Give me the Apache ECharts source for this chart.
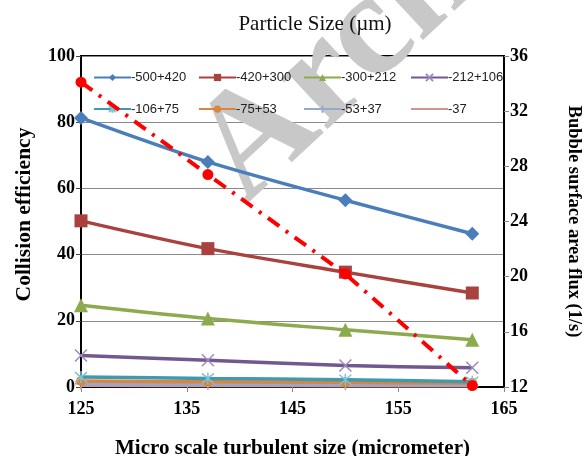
<!DOCTYPE html>
<html>
<head>
<meta charset="utf-8">
<script src="https://cdn.jsdelivr.net/npm/echarts@6/dist/echarts.min.js"></script>
<style>
  html, body { margin: 0; padding: 0; background: #fff; }
  #chart { width: 587px; height: 456px; }
</style>
</head>
<body>
<div id="chart"></div>
<script>
// Micro scale turbulent size (micrometer) at which each run was measured
const turbulentSize = [125, 137, 150, 162];

// Particle size classes (µm)
const sizeClasses = ['-500+420', '-420+300', '-300+212', '-212+106',
                     '-106+75', '-75+53', '-53+37', '-37'];

// Collision efficiency for each size class
const eff500_420 = [81.3, 68.0, 56.4, 46.3];
const eff420_300 = [50.2, 41.8, 34.7, 28.4];
const eff300_212 = [24.7, 20.7, 17.3, 14.3];
const eff212_106 = [9.5, 8.1, 6.5, 5.8];
const eff106_75  = [3.0, 2.6, 2.2, 1.6];
const eff75_53   = [1.8, 1.6, 1.4, 1.2];
const eff53_37   = [1.0, 0.9, 0.8, 0.7];
const eff37      = [0.5, 0.45, 0.4, 0.35];

// Bubble surface area flux (1/s), right axis
const bubbleFlux = [34.1, 27.4, 20.2, 12.1];

// Axis ticks
const xTicks = { min: 125, max: 165, step: 10 };
const leftTicks = { min: 0, max: 100, step: 20 };
const rightTicks = { min: 12, max: 36, step: 4 };

const effSeries = [eff500_420, eff420_300, eff300_212, eff212_106,
                   eff106_75, eff75_53, eff53_37, eff37];

const pair = (ys) => turbulentSize.map((x, i) => [x, ys[i]]);

const serif = '"Liberation Serif", "Times New Roman", serif';
const sans = '"Liberation Sans", Arial, sans-serif';

const X_PATH = 'path://M0,0L10,10M10,0L0,10';
const PLUS_PATH = 'path://M5,0L5,10M0,5L10,5';
const STAR_PATH = 'path://M0,0L10,10M10,0L0,10M5,-1L5,11';

const styles = [
  { color: '#4A7EBB', symbol: 'diamond', size: 14 },
  { color: '#A9413E', symbol: 'rect', size: 13 },
  { color: '#8CAA4E', symbol: 'triangle', size: 14 },
  { color: '#71588F', symbol: X_PATH, size: 12, stroke: '#9D8BC0' },
  { color: '#3F9AAF', symbol: STAR_PATH, size: 12, stroke: '#7FC3D4' },
  { color: '#DB843D', symbol: 'circle', size: 10 },
  { color: '#93A9CF', symbol: PLUS_PATH, size: 12, stroke: '#93A9CF' },
  { color: '#D19392', symbol: 'none', size: 0 }
];

const series = effSeries.map((ys, i) => {
  const st = styles[i];
  const itemStyle = st.stroke
    ? { color: st.stroke, borderColor: st.stroke, borderWidth: 1.5 }
    : { color: st.color };
  return {
    name: sizeClasses[i],
    type: 'line',
    yAxisIndex: 0,
    data: pair(ys),
    smooth: 0.3,
    symbol: st.symbol,
    symbolSize: st.size,
    showAllSymbol: true,
    clip: false,
    lineStyle: { color: st.color, width: 3.5 },
    itemStyle: itemStyle,
    z: 3 + (7 - i) * 0.01
  };
});

series.push({
  name: 'Bubble surface area flux',
  type: 'line',
  yAxisIndex: 1,
  data: pair(bubbleFlux),
  symbol: 'circle',
  symbolSize: 11,
  clip: false,
  lineStyle: { color: '#FF0000', width: 4, type: [14, 8, 3, 8] },
  itemStyle: { color: '#FF0000' },
  z: 5
});

// Legend entries: the finest class is shown as a plain line
const legendEntry = (k) => styles[k].symbol === 'none'
  ? { name: sizeClasses[k], itemStyle: { opacity: 0 } }
  : sizeClasses[k];

const legendCols = [[0, 4], [1, 5], [2, 6], [3, 7]];
const legendLeft = [93, 198, 303, 410];
const legends = legendCols.map((idx, c) => ({
  orient: 'vertical',
  left: legendLeft[c],
  top: 71,
  itemWidth: 37,
  itemHeight: 9,
  itemGap: 18.6,
  padding: 0,
  data: idx.map(legendEntry),
  textStyle: { fontFamily: sans, fontSize: 13, color: '#222', padding: [0, 0, 0, -5] }
}));

const chart = echarts.init(document.getElementById('chart'), null, { renderer: 'canvas' });

chart.setOption({
  animation: false,
  backgroundColor: '#fff',
  title: {
    text: 'Particle Size (µm)',
    left: 310,
    textAlign: 'center',
    top: 9,
    textStyle: { fontFamily: serif, fontSize: 21, fontWeight: 'normal', color: '#111' }
  },
  graphic: [{
    type: 'text',
    x: 270,
    y: 232,
    rotation: 0.75,
    z: 1,
    silent: true,
    style: {
      text: 'Archive of SID',
      font: 'bold 150px ' + serif,
      fill: '#c8c8c8',
      textAlign: 'left',
      textVerticalAlign: 'bottom'
    }
  }],
  legend: legends,
  grid: {
    left: 81, right: 83, top: 56, bottom: 69,
    outerBoundsMode: 'none',
    containLabel: false,
    show: true, borderColor: '#000', borderWidth: 2, backgroundColor: 'transparent'
  },
  xAxis: {
    type: 'value',
    min: xTicks.min, max: xTicks.max, interval: xTicks.step,
    name: 'Micro scale turbulent size (micrometer)',
    nameLocation: 'middle',
    nameGap: 51,
    nameTextStyle: { fontFamily: serif, fontSize: 21, fontWeight: 'bold', color: '#000' },
    axisLine: { show: true, lineStyle: { color: '#000', width: 2 } },
    axisTick: { show: true, length: 5, lineStyle: { color: '#888' } },
    axisLabel: { fontFamily: serif, fontSize: 18, fontWeight: 'bold', color: '#000', margin: 13 },
    splitLine: { show: false }
  },
  yAxis: [{
    type: 'value',
    min: leftTicks.min, max: leftTicks.max, interval: leftTicks.step,
    name: 'Collision efficiency',
    nameLocation: 'middle',
    nameGap: 46,
    nameTextStyle: { fontFamily: serif, fontSize: 21.5, fontWeight: 'bold', color: '#000', padding: [0, 0, 0, 14] },
    axisLine: { show: true, lineStyle: { color: '#000', width: 2 } },
    axisTick: { show: true, length: 5, lineStyle: { color: '#444' } },
    axisLabel: { fontFamily: serif, fontSize: 18, fontWeight: 'bold', color: '#000', margin: 6 },
    splitLine: { show: true, lineStyle: { color: '#8a8a8a', width: 1.2 } }
  }, {
    type: 'value',
    position: 'right',
    min: rightTicks.min, max: rightTicks.max, interval: rightTicks.step,
    name: 'Bubble surface area flux (1/s)',
    nameLocation: 'middle',
    nameRotate: -90,
    nameGap: 60,
    nameTextStyle: { fontFamily: serif, fontSize: 18.5, fontWeight: 'bold', color: '#000' },
    axisLine: { show: true, lineStyle: { color: '#000', width: 2 } },
    axisTick: { show: true, length: 5, lineStyle: { color: '#888' } },
    axisLabel: { fontFamily: serif, fontSize: 18, fontWeight: 'bold', color: '#000', margin: 6 },
    splitLine: { show: false }
  }],
  series: series
});
</script>
</body>
</html>
